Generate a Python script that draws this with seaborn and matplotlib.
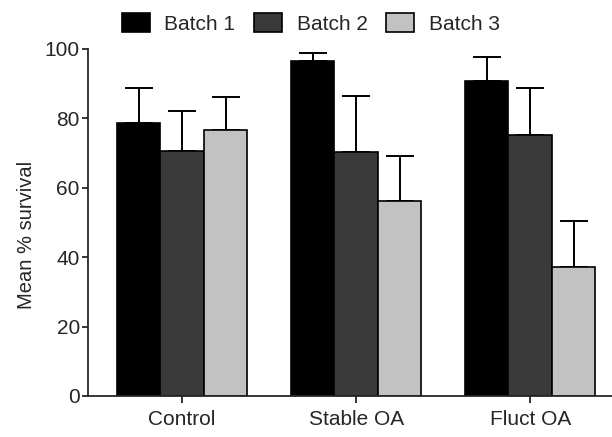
import numpy as np
import pandas as pd
import matplotlib
matplotlib.use("Agg")
import matplotlib.pyplot as plt
import seaborn as sns

# values
groups = ["Control", "Stable OA", "Fluct OA"]
batches = ["Batch 1", "Batch 2", "Batch 3"]
batch1_mean = [78.7, 96.5, 90.7]
batch2_mean = [70.5, 70.3, 75.2]
batch3_mean = [76.6, 56.3, 37.1]
batch1_err = [10.0, 2.3, 7.1]
batch2_err = [11.7, 16.1, 13.5]
batch3_err = [9.6, 12.9, 13.3]

means = [batch1_mean, batch2_mean, batch3_mean]
errs = [batch1_err, batch2_err, batch3_err]
df = pd.DataFrame({
    "group": np.tile(groups, 3),
    "batch": np.repeat(batches, 3),
    "mean": np.concatenate(means),
    "err": np.concatenate(errs),
})

sns.set_style("ticks")
plt.rcParams["font.family"] = ["Liberation Sans", "DejaVu Sans"]
colors = ["#000000", "#3a3a3a", "#c2c2c2"]

fig = plt.figure(figsize=(6.12, 4.37), dpi=100)
ax = fig.add_axes([0.144, 0.094, 0.856, 0.794])

sns.barplot(data=df, x="group", y="mean", hue="batch", palette=colors,
            width=0.75, gap=0, errorbar=None, edgecolor="black",
            linewidth=1.2, ax=ax, zorder=2)

# upper-only error bars at the centre of each bar
bar_conts = list(ax.containers)
for i, cont in enumerate(bar_conts):
    xs = [p.get_x() + p.get_width() / 2 for p in cont.patches]
    ys = means[i]
    ax.errorbar(xs, ys, yerr=[np.zeros(3), errs[i]], fmt="none",
                ecolor="black", elinewidth=1.4, capsize=10, capthick=1.4,
                zorder=1, clip_on=False)

ax.set_ylim(0, 100)
ax.set_xlim(-0.54, 2.47)
ax.set_yticks([0, 20, 40, 60, 80, 100])
ax.set_xlabel("")
ax.set_ylabel("Mean % survival", fontsize=14.5)
ax.yaxis.set_label_coords(-0.10, 0.465)
ax.tick_params(axis="both", labelsize=15, width=1.3, direction="out")
ax.tick_params(axis="y", length=4, pad=2)
ax.tick_params(axis="x", length=5, pad=5)
for s in ["left", "bottom"]:
    ax.spines[s].set_linewidth(1.3)
sns.despine(ax=ax)

ax.legend(loc="lower center", bbox_to_anchor=(0.425, 1.02), ncol=3, frameon=False,
          fontsize=15, handlelength=1.35, handleheight=1.0, columnspacing=0.9,
          handletextpad=0.7, borderaxespad=0)

fig.savefig("out.png", dpi=100)
